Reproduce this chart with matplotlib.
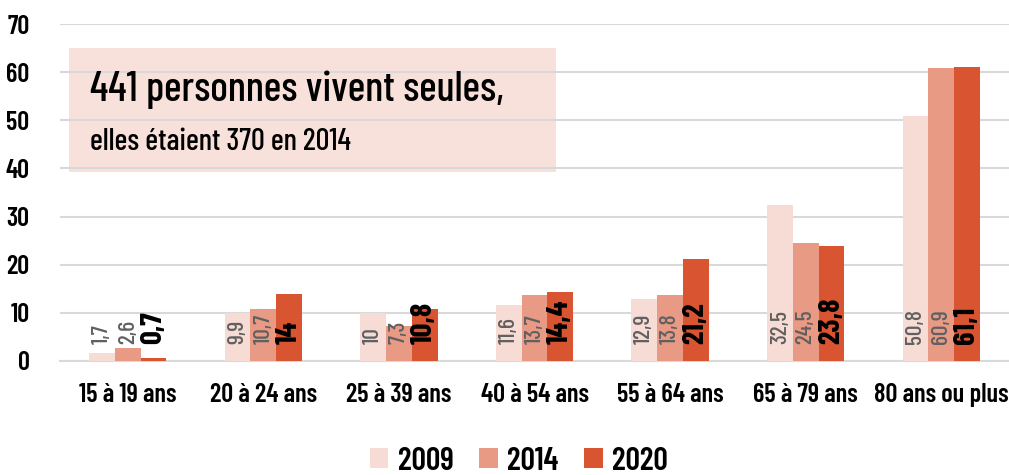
import matplotlib
matplotlib.use("Agg")
import matplotlib.pyplot as plt
import numpy as np
from matplotlib.patches import Patch, Rectangle

categories = ["15 à 19 ans", "20 à 24 ans", "25 à 39 ans", "40 à 54 ans",
              "55 à 64 ans", "65 à 79 ans", "80 ans ou plus"]
v2009 = [1.7, 9.9, 10, 11.6, 12.9, 32.5, 50.8]
v2014 = [2.6, 10.7, 7.3, 13.7, 13.8, 24.5, 60.9]
v2020 = [0.7, 14, 10.8, 14.4, 21.2, 23.8, 61.1]
years = ["2009", "2014", "2020"]
colors = ["#f7dbd5", "#e99a85", "#d95532"]
title1 = "441 personnes vivent seules,"
title2 = "elles étaient 370 en 2014"

plt.rcParams["font.family"] = ["Barlow Condensed", "DejaVu Sans"]

def fmt(v):
    return ("%g" % v).replace(".", ",")

fig = plt.figure(figsize=(10.09, 4.75), dpi=100)
ax = fig.add_axes([60/1009, 114/475, 949/1009, 337/475])
x = np.arange(len(categories))
w = 0.19
series = [v2009, v2014, v2020]
for i, (vals, c) in enumerate(zip(series, colors)):
    pos = x + (i - 1) * w
    ax.bar(pos, vals, width=w, color=c, zorder=3)
    for p, v in zip(pos, vals):
        if i < 2:
            ax.text(p, 3.6, fmt(v), rotation=90, ha="center", va="bottom",
                    fontsize=17, fontweight="medium", color="#606060", zorder=4)
        else:
            ax.text(p, 3.6, fmt(v), rotation=90, ha="center", va="bottom",
                    fontsize=22, fontweight="bold", color="black", zorder=4)

ax.set_xlim(-0.5, len(categories) - 0.5)
ax.set_ylim(0, 70)
ax.set_yticks(range(0, 71, 10))
ax.yaxis.grid(True, color="#d9d9d9", linewidth=1.5, zorder=1)
ax.set_axisbelow(True)
for s in ["top", "right", "left"]:
    ax.spines[s].set_visible(False)
ax.spines["bottom"].set_color("#d9d9d9")
ax.spines["bottom"].set_linewidth(1.5)
ax.set_xticks(x)
ax.set_xticklabels(categories, fontsize=19, fontweight="semibold")
ax.tick_params(axis="x", length=0, pad=16)
ax.tick_params(axis="y", length=0, pad=22, labelsize=19)
for t in ax.get_yticklabels():
    t.set_fontweight("semibold")

ax.add_patch(Rectangle((-0.43, 39.3), 3.59, 25.7, facecolor="#f7dbd5",
                       edgecolor="none", zorder=0.5, alpha=0.85))
ax.text(-0.28, 56.3, title1, fontsize=30, fontweight="medium", va="center", ha="left", zorder=5)
ax.text(-0.28, 45.5, title2, fontsize=22, fontweight="medium", va="center", ha="left", zorder=5)

handles = [Patch(facecolor=c, edgecolor="none") for c in colors]
fig.legend(handles, years, loc="center", bbox_to_anchor=(519/1009, 1 - 461/475),
           ncol=3, frameon=False, prop={"size": 23, "weight": "semibold"},
           handlelength=0.58, handleheight=0.58, handletextpad=0.3, columnspacing=0.8)

fig.savefig("out.png", dpi=100)
